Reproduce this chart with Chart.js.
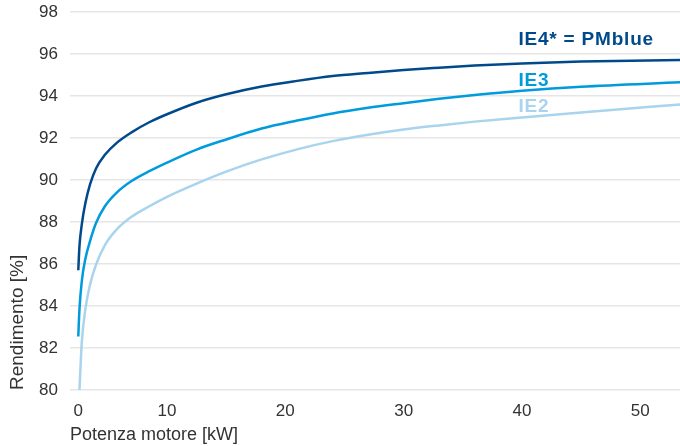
<!DOCTYPE html>
<html>
<head>
<meta charset="utf-8">
<script src="https://cdn.jsdelivr.net/npm/chart.js@4/dist/chart.umd.min.js"></script>
<style>
  html, body { margin: 0; padding: 0; background: #fff; }
  #wrap { width: 680px; height: 446px; }
</style>
</head>
<body>
<div id="wrap"><canvas id="line-graph"></canvas></div>
<script>
// potenza motore [kW]
const kW = [2.5, 2.6, 2.8, 3.1, 3.5, 4, 4.75, 5.75, 7, 8.5, 10, 12.5, 15, 18, 21, 24, 27, 30, 33, 36, 40, 45, 53.4];

// rendimento [%]
const ie4 = [85.7, 86.85, 87.9, 88.9, 89.8, 90.55, 91.2, 91.77, 92.27, 92.75, 93.13, 93.68, 94.08, 94.45, 94.72, 94.95, 95.1, 95.24, 95.35, 95.45, 95.55, 95.64, 95.71];
const ie3 = [82.55, 83.85, 85.2, 86.25, 87.1, 87.95, 88.75, 89.4, 89.95, 90.42, 90.83, 91.45, 91.93, 92.45, 92.83, 93.17, 93.44, 93.66, 93.87, 94.05, 94.25, 94.44, 94.65];
const ie2 = [null, 80.0, 82.3, 83.85, 85.03, 85.97, 86.9, 87.65, 88.25, 88.75, 89.2, 89.83, 90.4, 90.98, 91.46, 91.85, 92.15, 92.4, 92.6, 92.78, 92.98, 93.22, 93.6];

const xTickValues = [2.5, 10, 20, 30, 40, 50];
const xTickLabels = ['0', '10', '20', '30', '40', '50'];

const seriesNames = ['IE4* = PMblue', 'IE3', 'IE2'];
const seriesColors = ['#004a8c', '#009bdc', '#a9d4ee'];
// where the curve names sit, in data units (kW, %)
const nameAt = [[39.7, 96.67], [39.7, 94.72], [39.7, 93.48]];

function toPoints(ys) {
    return kW.map((x, i) => ({ x: x, y: ys[i] }));
}

const seriesLabels = {
    id: 'seriesLabels',
    afterDatasetsDraw(chart) {
        const ctx = chart.ctx;
        const sx = chart.scales.x, sy = chart.scales.y;
        ctx.save();
        ctx.font = 'bold 19px "Liberation Sans", Arial, sans-serif';
        ctx.letterSpacing = '0.8px';
        ctx.textBaseline = 'middle';
        ctx.textAlign = 'left';
        seriesNames.forEach((name, i) => {
            ctx.fillStyle = seriesColors[i];
            ctx.fillText(name, sx.getPixelForValue(nameAt[i][0]), sy.getPixelForValue(nameAt[i][1]));
        });
        ctx.restore();
    }
};

const data = {
    datasets: [ie4, ie3, ie2].map((ys, i) => ({
        label: seriesNames[i],
        data: toPoints(ys),
        borderColor: seriesColors[i],
        backgroundColor: seriesColors[i],
        borderWidth: 2.5,
        pointRadius: 0,
        fill: false,
        spanGaps: false,
        cubicInterpolationMode: 'monotone'
    }))
};

const fontFamily = '"Liberation Sans", Arial, sans-serif';

const options = {
    responsive: true,
    maintainAspectRatio: false,
    animation: false,
    layout: { padding: 0 },
    plugins: {
        legend: { display: false },
        tooltip: { enabled: false }
    },
    scales: {
        x: {
            type: 'linear',
            min: 1.8,
            max: 53.36,
            afterBuildTicks: (scale) => {
                scale.ticks = xTickValues.map(v => ({ value: v }));
            },
            ticks: {
                autoSkip: false,
                maxRotation: 0,
                color: '#333',
                font: { family: fontFamily, size: 17 },
                padding: 11,
                callback: (v, i) => xTickLabels[i]
            },
            grid: { display: false, drawTicks: false },
            border: { display: false },
            title: {
                display: true,
                text: 'Potenza motore [kW]',
                align: 'start',
                color: '#333',
                font: { family: fontFamily, size: 18 },
                padding: { top: 4, bottom: 0 }
            },
            afterFit: (scale) => {
                scale.height = 56;
                scale.paddingLeft = 0;
                scale.paddingRight = 0;
            }
        },
        y: {
            min: 80,
            max: 98,
            ticks: {
                stepSize: 2,
                color: '#333',
                font: { family: fontFamily, size: 17 },
                padding: 12
            },
            grid: { color: '#e6e6e6', lineWidth: 1.5, drawTicks: false },
            border: { display: false },
            title: {
                display: true,
                text: 'Rendimento [%]',
                align: 'start',
                color: '#333',
                font: { family: fontFamily, size: 19 },
                padding: { top: 6, bottom: 4 }
            },
            afterFit: (scale) => {
                scale.width = 70;
                scale.paddingTop = 12;
                scale.paddingBottom = 0;
            }
        }
    }
};

new Chart(document.getElementById('line-graph').getContext('2d'), {
    type: 'line',
    data: data,
    options: options,
    plugins: [seriesLabels]
});
</script>
</body>
</html>
